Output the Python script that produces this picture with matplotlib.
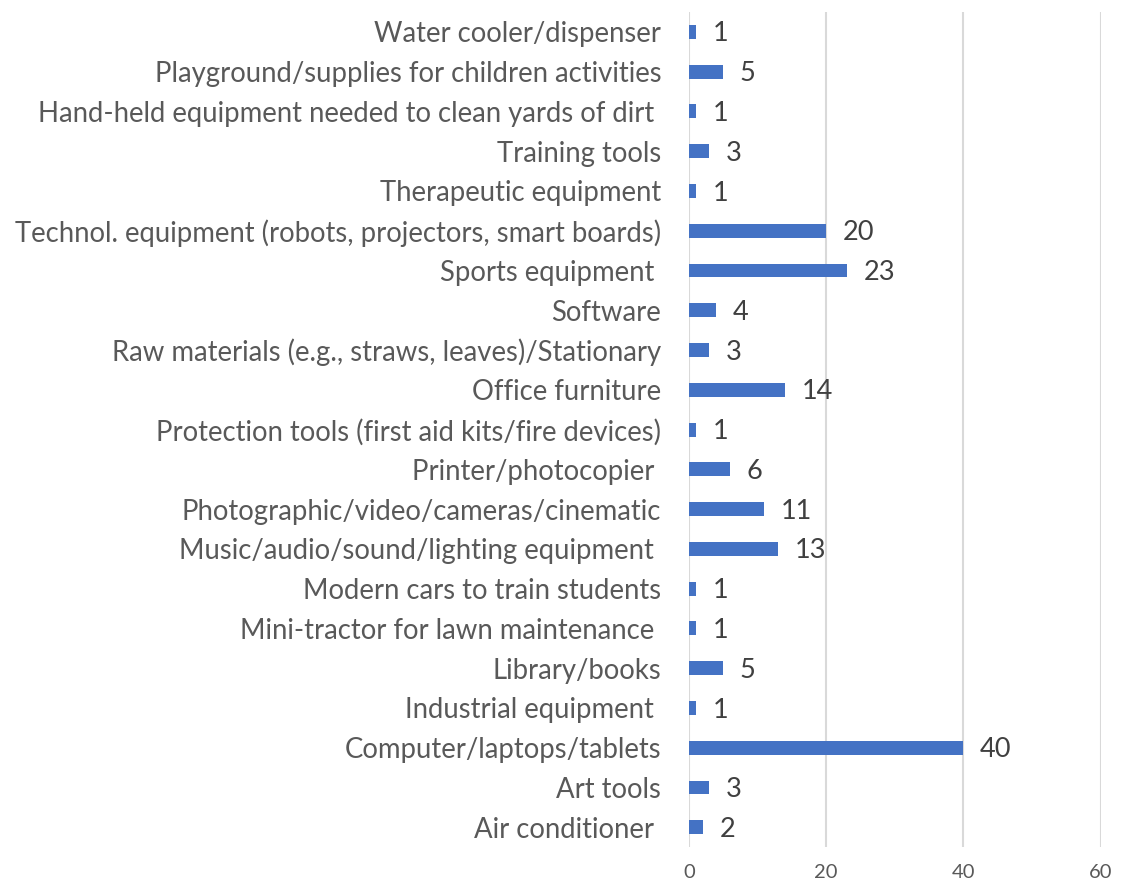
import matplotlib.pyplot as plt
import numpy as np

plt.rcParams['font.family'] = ['Lato', 'DejaVu Sans']

# categories listed bottom to top, as drawn on the y axis
categories = [
    'Air conditioner ',
    'Art tools',
    'Computer/laptops/tablets',
    'Industrial equipment ',
    'Library/books',
    'Mini-tractor for lawn maintenance ',
    'Modern cars to train students',
    'Music/audio/sound/lighting equipment ',
    'Photographic/video/cameras/cinematic',
    'Printer/photocopier ',
    'Protection tools (first aid kits/fire devices)',
    'Office furniture',
    'Raw materials (e.g., straws, leaves)/Stationary',
    'Software',
    'Sports equipment ',
    'Technol. equipment (robots, projectors, smart boards)',
    'Therapeutic equipment',
    'Training tools',
    'Hand-held equipment needed to clean yards of dirt ',
    'Playground/supplies for children activities',
    'Water cooler/dispenser',
]
counts = [2, 3, 40, 1, 5, 1, 1, 13, 11, 6, 1, 14, 3, 4, 23, 20, 1, 3, 1, 5, 1]
x_ticks = [0, 20, 40, 60]

fig = plt.figure(figsize=(11.22, 8.88), dpi=100)
ax = fig.add_axes([0.614, 0.046, 0.367, 0.9405])

y = np.arange(len(categories))
bars = ax.barh(y, counts, height=0.35, color='#4472c4', zorder=3)

for rect, val in zip(bars, counts):
    ax.annotate(str(val), (rect.get_width(), rect.get_y() + rect.get_height() / 2),
                xytext=(12, -1.5), textcoords='offset points', va='center', ha='left',
                fontsize=19.5, color='#404040')

ax.set_xlim(0, 60)
ax.set_ylim(-0.5, len(categories) - 0.5)
ax.set_xticks(x_ticks)
ax.set_yticks(y)
ax.set_yticklabels(categories, fontsize=19.8, color='#595959')
ax.tick_params(axis='x', labelsize=14.5, labelcolor='#595959', length=0, pad=12)
ax.tick_params(axis='y', length=0, pad=20)
ax.grid(axis='x', color='#d9d9d9', linewidth=1.5, zorder=0)
for s in ax.spines.values():
    s.set_visible(False)

fig.savefig('out.png', dpi=100)
